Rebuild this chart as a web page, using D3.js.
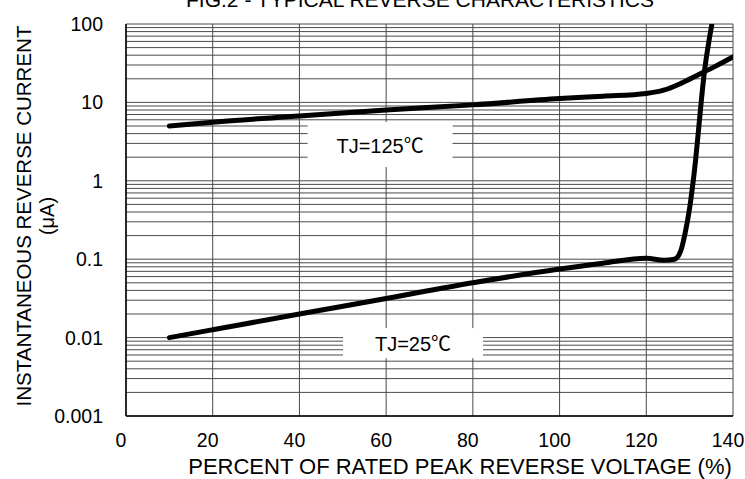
<!DOCTYPE html>
<html>
<head>
<meta charset="utf-8">
<script src="https://cdn.jsdelivr.net/npm/d3@7"></script>
<style>
  body { margin: 0; background: #fff; }
  svg text { font-family: "Liberation Sans", Arial, "Noto Sans CJK SC", sans-serif; fill: #000; }
</style>
</head>
<body>
<div id="chart"></div>
<script>
// Data
let xTicks = [0, 20, 40, 60, 80, 100, 120, 140];
let yTicks = [0.001, 0.01, 0.1, 1, 10, 100];
let yTickLabels = ['0.001', '0.01', '0.1', '1', '10', '100'];

let voltage125 = [10, 20, 40, 60, 80, 100, 110, 120, 124, 128, 132, 136, 140];
let current125 = [5.0, 5.6, 6.7, 8.0, 9.3, 11.2, 12.0, 13.0, 14.3, 17.5, 22.5, 29, 38];

let voltage25 = [10, 20, 40, 60, 80, 100, 110, 120, 124, 126.5, 128, 129, 130, 131, 133.5, 135.2];
let current25 = [0.010, 0.0126, 0.020, 0.0316, 0.050, 0.075, 0.089, 0.103, 0.097, 0.100, 0.13, 0.22, 0.45, 1.2, 27, 105];

let svgWidth = 745,
    svgHeight = 479;

let margin = { left: 126, right: 12, top: 24, bottom: 63 };

let svg = d3.select('#chart')
    .append('svg')
    .attr('width', svgWidth)
    .attr('height', svgHeight);

let xScale = d3.scaleLinear()
    .domain([0, 140])
    .range([margin.left, svgWidth - margin.right]);

let yScale = d3.scaleLog()
    .domain([0.001, 100])
    .range([svgHeight - margin.bottom, margin.top]);

let gridColor = '#4a4a4a';

// minor + major horizontal grid (1..9 per decade)
let hLines = [];
for (let d = -3; d < 2; d++) {
    for (let m = 1; m < 10; m++) hLines.push(m * Math.pow(10, d));
}
hLines.push(100);

let grid = svg.append('g');

grid.selectAll('line.h')
    .data(hLines)
    .enter()
    .append('line')
    .attr('x1', xScale(0))
    .attr('x2', xScale(140))
    .attr('y1', d => yScale(d))
    .attr('y2', d => yScale(d))
    .attr('stroke', gridColor)
    .attr('stroke-width', 1);

grid.selectAll('line.v')
    .data(xTicks)
    .enter()
    .append('line')
    .attr('x1', d => xScale(d))
    .attr('x2', d => xScale(d))
    .attr('y1', yScale(100))
    .attr('y2', yScale(0.001))
    .attr('stroke', gridColor)
    .attr('stroke-width', 1);

// left and bottom axis lines
svg.append('line')
    .attr('x1', xScale(0)).attr('x2', xScale(0))
    .attr('y1', yScale(100)).attr('y2', yScale(0.001))
    .attr('stroke', '#000').attr('stroke-width', 1.5);
svg.append('line')
    .attr('x1', xScale(0)).attr('x2', xScale(140))
    .attr('y1', yScale(0.001)).attr('y2', yScale(0.001))
    .attr('stroke', '#000').attr('stroke-width', 1.5);

// label boxes that hide the grid (x in %, y in µA)
let labelBoxes = [
    { text: 'TJ=125\u2103', x: 58.6, y: 2.9, w: 145, h: 45 },
    { text: 'TJ=25\u2103', x: 66.2, y: 0.0085, w: 140, h: 30 }
];

// curves
svg.append('clipPath').attr('id', 'plot-clip')
    .append('rect')
    .attr('x', xScale(0))
    .attr('y', yScale(100))
    .attr('width', xScale(140) - xScale(0))
    .attr('height', yScale(0.001) - yScale(100));

let line = d3.line()
    .x(d => xScale(d[0]))
    .y(d => yScale(d[1]))
    .curve(d3.curveMonotoneX);

let series = [
    d3.zip(voltage125, current125),
    d3.zip(voltage25, current25)
];

let boxes = svg.append('g');
boxes.selectAll('rect')
    .data(labelBoxes)
    .enter()
    .append('rect')
    .attr('x', d => xScale(d.x) - d.w / 2)
    .attr('y', d => yScale(d.y) - d.h / 2)
    .attr('width', d => d.w)
    .attr('height', d => d.h)
    .attr('fill', '#fff');

boxes.selectAll('text')
    .data(labelBoxes)
    .enter()
    .append('text')
    .attr('x', d => xScale(d.x))
    .attr('y', d => yScale(d.y) + 8)
    .attr('text-anchor', 'middle')
    .style('font-size', '20px')
    .text(d => d.text);

svg.append('g')
    .attr('clip-path', 'url(#plot-clip)')
    .selectAll('path')
    .data(series)
    .enter()
    .append('path')
    .attr('d', line)
    .attr('fill', 'none')
    .attr('stroke', '#000')
    .attr('stroke-width', 5)
    .attr('stroke-linecap', 'round')
    .attr('stroke-linejoin', 'round');

// tick labels (sit a little left of their grid lines, as in the original)
svg.append('g')
    .selectAll('text')
    .data(xTicks)
    .enter()
    .append('text')
    .attr('x', d => xScale(d) - 5)
    .attr('y', 447)
    .attr('text-anchor', 'middle')
    .style('font-size', '19.5px')
    .text(d => d);

svg.append('g')
    .selectAll('text')
    .data(yTicks)
    .enter()
    .append('text')
    .attr('x', 103)
    .attr('y', d => yScale(d) + 7)
    .attr('text-anchor', 'end')
    .style('font-size', '19.5px')
    .text((d, i) => yTickLabels[i]);

// axis titles
svg.append('text')
    .attr('x', 460)
    .attr('y', 474)
    .attr('text-anchor', 'middle')
    .style('font-size', '22px')
    .text('PERCENT OF RATED PEAK REVERSE VOLTAGE (%)');

svg.append('text')
    .attr('transform', 'translate(31, 216) rotate(-90)')
    .attr('text-anchor', 'middle')
    .style('font-size', '20.5px')
    .text('INSTANTANEOUS REVERSE CURRENT');

svg.append('text')
    .attr('transform', 'translate(54, 216) rotate(-90)')
    .attr('text-anchor', 'middle')
    .style('font-size', '20px')
    .text('(\u03bcA)');

// title, cut off at top edge like the source image
svg.append('text')
    .attr('x', 420)
    .attr('y', 7)
    .attr('text-anchor', 'middle')
    .style('font-size', '21px')
    .text('FIG.2 - TYPICAL REVERSE CHARACTERISTICS');
</script>
</body>
</html>
